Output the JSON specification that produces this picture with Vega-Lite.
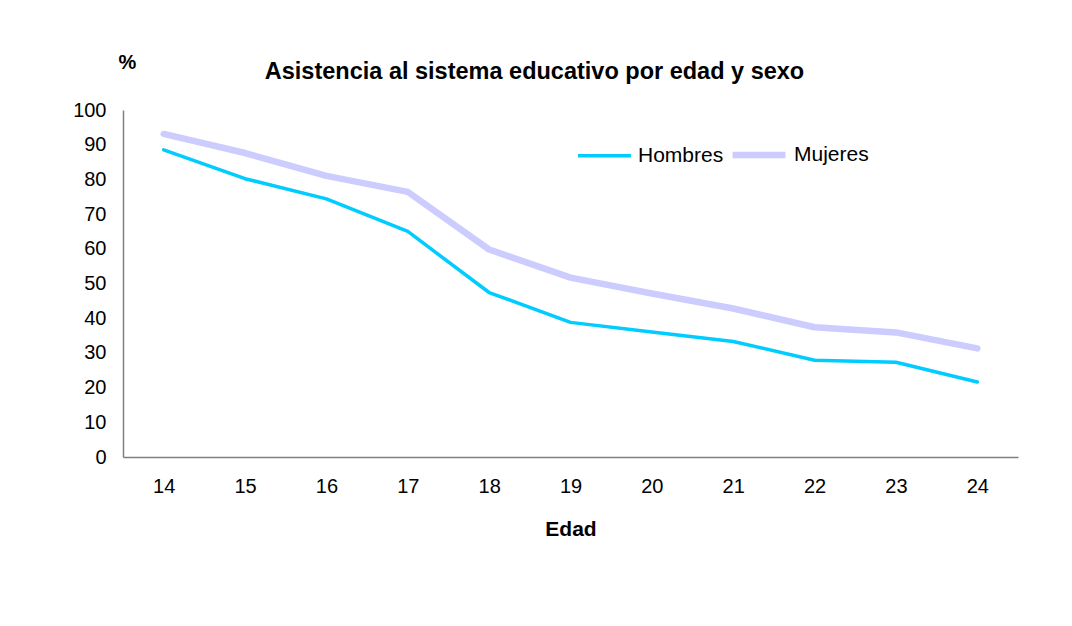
{
  "$schema": "https://vega.github.io/schema/vega-lite/v6.json",
  "width": 895,
  "height": 347,
  "autosize": {"type": "none"},
  "padding": {"left": 123, "top": 110, "right": 54, "bottom": 169},
  "background": "white",
  "config": {
    "font": "Liberation Sans",
    "view": {"stroke": null}
  },
  "title": {
    "text": "Asistencia al sistema educativo por edad y sexo",
    "fontSize": 23.5,
    "fontWeight": "bold",
    "color": "black",
    "anchor": "middle",
    "dx": -36,
    "dy": 57,
    "offset": 26
  },
  "data": {
    "values": [
      {"edad": "14", "sexo": "Hombres", "valor": 88.5},
      {"edad": "15", "sexo": "Hombres", "valor": 80.2},
      {"edad": "16", "sexo": "Hombres", "valor": 74.4},
      {"edad": "17", "sexo": "Hombres", "valor": 65.0},
      {"edad": "18", "sexo": "Hombres", "valor": 47.4},
      {"edad": "19", "sexo": "Hombres", "valor": 38.8},
      {"edad": "20", "sexo": "Hombres", "valor": 36.0},
      {"edad": "21", "sexo": "Hombres", "valor": 33.3},
      {"edad": "22", "sexo": "Hombres", "valor": 27.9},
      {"edad": "23", "sexo": "Hombres", "valor": 27.3},
      {"edad": "24", "sexo": "Hombres", "valor": 21.6},
      {"edad": "14", "sexo": "Mujeres", "valor": 93.1},
      {"edad": "15", "sexo": "Mujeres", "valor": 87.6},
      {"edad": "16", "sexo": "Mujeres", "valor": 81.0},
      {"edad": "17", "sexo": "Mujeres", "valor": 76.4},
      {"edad": "18", "sexo": "Mujeres", "valor": 59.8},
      {"edad": "19", "sexo": "Mujeres", "valor": 51.7},
      {"edad": "20", "sexo": "Mujeres", "valor": 47.1},
      {"edad": "21", "sexo": "Mujeres", "valor": 42.8},
      {"edad": "22", "sexo": "Mujeres", "valor": 37.4},
      {"edad": "23", "sexo": "Mujeres", "valor": 35.9},
      {"edad": "24", "sexo": "Mujeres", "valor": 31.3}
    ]
  },
  "mark": {"type": "line", "strokeCap": "round", "strokeJoin": "round"},
  "encoding": {
    "x": {
      "field": "edad",
      "type": "ordinal",
      "scale": {"type": "point", "padding": 0.5},
      "axis": {
        "title": "Edad",
        "titleFontSize": 21,
        "titleFontWeight": "bold",
        "titleColor": "black",
        "titlePadding": 22,
        "labelAngle": 0,
        "labelFontSize": 20,
        "labelColor": "black",
        "labelPadding": 19,
        "ticks": false,
        "grid": false,
        "domainColor": "#808080",
        "domainWidth": 1.5
      }
    },
    "y": {
      "field": "valor",
      "type": "quantitative",
      "scale": {"domain": [0, 100], "nice": false},
      "axis": {
        "title": "%",
        "titleAngle": 0,
        "titleX": 4,
        "titleY": -48,
        "titleAlign": "center",
        "titleBaseline": "middle",
        "titleFontSize": 20,
        "titleFontWeight": "bold",
        "titleColor": "black",
        "values": [0, 10, 20, 30, 40, 50, 60, 70, 80, 90, 100],
        "labelFontSize": 20,
        "labelColor": "black",
        "labelPadding": 17,
        "ticks": false,
        "grid": false,
        "domainColor": "#808080",
        "domainWidth": 1.5
      }
    },
    "color": {
      "field": "sexo",
      "type": "nominal",
      "scale": {"domain": ["Hombres", "Mujeres"], "range": ["#00CCFF", "#CCCCFF"]},
      "legend": {
        "title": null,
        "orient": "none",
        "legendX": 453,
        "legendY": 15,
        "direction": "horizontal",
        "symbolType": "stroke",
        "symbolSize": 2800,
        "labelFontSize": 21,
        "labelColor": "black",
        "labelOffset": 5,
        "columnPadding": -5
      }
    },
    "strokeWidth": {
      "field": "sexo",
      "type": "nominal",
      "scale": {"domain": ["Hombres", "Mujeres"], "range": [3.5, 6.5]},
      "legend": {
        "title": null,
        "orient": "none",
        "legendX": 453,
        "legendY": 15,
        "direction": "horizontal",
        "symbolType": "stroke",
        "symbolSize": 2800,
        "labelFontSize": 21,
        "labelColor": "black",
        "labelOffset": 5,
        "columnPadding": -5
      }
    }
  }
}
